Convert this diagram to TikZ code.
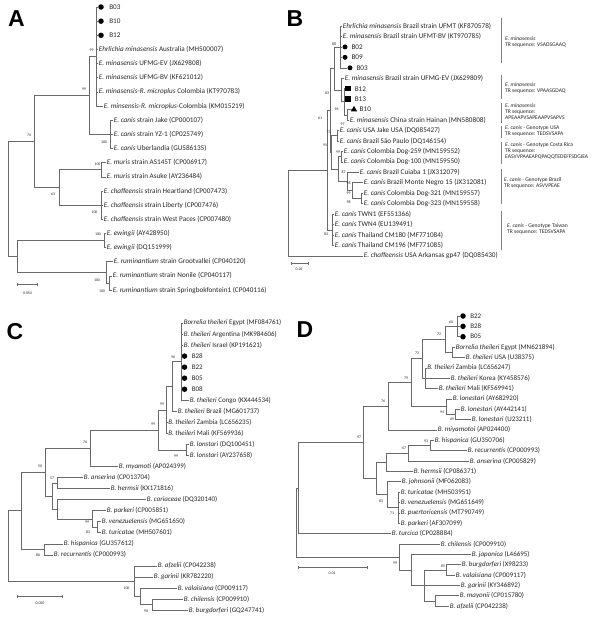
\documentclass[tikz,border=0pt]{standalone}
\usepackage{fontspec}
\setmainfont{Carlito}
\newfontfamily\panelfont{Liberation Sans}
\usepackage{tikz}
\usetikzlibrary{arrows.meta,positioning,shapes.geometric}
\definecolor{branchgray}{HTML}{6A6A6A}
\definecolor{labelgray}{HTML}{262626}

\begin{document}
\begin{tikzpicture}[x=1pt,y=-1pt,
  br/.style={draw=branchgray,line width=0.6pt},
  lfa/.style={anchor=west,inner sep=0.6pt,text=labelgray,font=\fontsize{7.2}{8}\selectfont},
  lfb/.style={lfa,font=\fontsize{7.2}{8}\selectfont},
  lfc/.style={lfa,font=\fontsize{7}{8}\selectfont},
  bs/.style={inner sep=0pt,text=labelgray,font=\fontsize{3.9}{4}\selectfont},
  dt/.style={circle,fill=black,minimum size=5.5pt,inner sep=0pt},
  sq/.style={rectangle,fill=black,minimum size=5.5pt,inner sep=0pt},
  tri/.style={regular polygon,regular polygon sides=3,fill=black,minimum size=7.5pt,inner sep=0pt},
  ann/.style={anchor=west,align=left,inner sep=0pt,text=labelgray,font=\fontsize{5.6}{6}\selectfont},
  brk/.style={draw=branchgray!85,line width=0.6pt},
  panel/.style={font=\panelfont\fontsize{23}{23}\selectfont\bfseries}]
\useasboundingbox (0,0) rectangle (600,621);

\node[panel] (pA) at (16.5,18.5) {A};
\node[panel] (pB) at (295,18.5) {B};
\node[panel] (pC) at (15,332) {C};
\node[panel] (pD) at (305,330) {D};

% A
\coordinate (aMin) at (96.5,56.5);
\coordinate (aCan) at (110,134.35);
\coordinate (aMC) at (89,95.4);
\coordinate (aMur) at (101,169.7);
\coordinate (aCha) at (101,205.1);
\coordinate (aMCh) at (59,187.4);
\coordinate (a74) at (34.5,141.4);
\coordinate (aEwi) at (104,240.5);
\coordinate (aRum) at (106,272.3);
\coordinate (aRum2) at (109,282.9);
\coordinate (aER) at (17,256.4);
\coordinate (aRoot) at (8,198.9);
\node[dt] (aB03) at (101,7) {};
\node[lfa,right=4.5pt of aB03] (aB03t) {B03};
\node[dt] (aB10) at (101,21.15) {};
\node[lfa,right=4.5pt of aB10] (aB10t) {B10};
\node[dt] (aB12) at (101,35.3) {};
\node[lfa,right=4.5pt of aB12] (aB12t) {B12};
\node[lfa] (aAus) at (98,49.45) {\textit{Ehrlichia minasensis} Australia (MH500007)};
\node[lfa] (aEV) at (98,63.6) {\textit{E. minasensis} UFMG-EV (JX629808)};
\node[lfa] (aBV) at (98,77.75) {\textit{E. minasensis} UFMG-BV (KF621012)};
\node[lfa] (aKT) at (98,91.9) {\textit{E. minasensis-R. microplus} Colombia (KT970783)};
\node[lfa] (aKM) at (103,106.05) {\textit{E. minsensis-R. microplus}-Colombia (KM015219)};
\node[lfa] (aJake) at (113,120.2) {\textit{E. canis} strain Jake (CP000107)};
\node[lfa] (aYZ) at (113,134.35) {\textit{E. canis} strain YZ-1 (CP025749)};
\node[lfa] (aUber) at (113,148.5) {\textit{E. canis} Uberlandia (GU586135)};
\node[lfa] (aAS) at (106,162.65) {\textit{E. muris} strain AS145T (CP006917)};
\node[lfa] (aAsuke) at (106,176.8) {\textit{E. muris} strain Asuke (AY236484)};
\node[lfa] (aHeart) at (103,190.95) {\textit{E. chaffeensis} strain Heartland (CP007473)};
\node[lfa] (aLib) at (103,205.1) {\textit{E. chaffeensis} strain Liberty (CP007476)};
\node[lfa] (aWest) at (103,219.25) {\textit{E. chaffeensis} strain West Paces (CP007480)};
\node[lfa] (aEwA) at (106,233.4) {\textit{E. ewingii} (AY428950)};
\node[lfa] (aEwD) at (106,247.55) {\textit{E. ewingii} (DQ151999)};
\node[lfa] (aGroot) at (113,261.7) {\textit{E. ruminantium} strain Grootvallei (CP040120)};
\node[lfa] (aNon) at (112,275.85) {\textit{E. ruminantium} strain Nonile (CP040117)};
\node[lfa] (aSpr) at (112,290) {\textit{E. ruminantium} strain Springbokfontein1 (CP040116)};
\draw[br] (aMin) |- (aB03) (aMin) |- (aB10) (aMin) |- (aB12) (aMin) |- (aAus) (aMin) |- (aEV) (aMin) |- (aBV) (aMin) |- (aKT) (aMin) |- (aKM);
\draw[br] (aCan) |- (aJake) (aCan) |- (aYZ) (aCan) |- (aUber);
\draw[br] (aMC) |- (aMin) (aMC) |- (aCan);
\draw[br] (aMur) |- (aAS) (aMur) |- (aAsuke);
\draw[br] (aCha) |- (aHeart) (aCha) |- (aLib) (aCha) |- (aWest);
\draw[br] (aMCh) |- (aMur) (aMCh) |- (aCha);
\draw[br] (a74) |- (aMC) (a74) |- (aMCh);
\draw[br] (aEwi) |- (aEwA) (aEwi) |- (aEwD);
\draw[br] (aRum2) |- (aNon) (aRum2) |- (aSpr);
\draw[br] (aRum) |- (aGroot) (aRum) |- (aRum2);
\draw[br] (aER) |- (aEwi) (aER) |- (aRum);
\draw[br] (aRoot) |- (a74) (aRoot) |- (aER);
\node[bs] (aS1) at (91.5,50.5) {99};
\node[bs] (aS2) at (84,89.5) {99};
\node[bs] (aS3) at (29,135.5) {74};
\node[bs] (aS4) at (104,142) {100};
\node[bs] (aS5) at (97.5,164) {100};
\node[bs] (aS6) at (53,194.5) {63};
\node[bs] (aS7) at (94.5,212) {100};
\node[bs] (aS8) at (98,234) {100};
\node[bs] (aS9) at (97,280) {100};
\node[bs] (aS10) at (102,291) {100};
\draw[br,{Bar[width=3pt]}-{Bar[width=3pt]}] (17,284.5) -- (38,284.5);
\node[bs] (aSc) at (27.5,293) {0.050};

% B
\coordinate (b88) at (340,46.9);
\coordinate (b83) at (341.5,90);
\coordinate (b96) at (344,101.75);
\coordinate (b97) at (347,114.8);
\coordinate (bMin) at (334,68.45);
\coordinate (b73) at (337.5,135.7);
\coordinate (b99) at (341.5,156.6);
\coordinate (bD) at (361.5,198.4);
\coordinate (bMN) at (352,190.6);
\coordinate (b87) at (347,181.45);
\coordinate (bCol) at (338,169);
\coordinate (b95) at (331.5,152.35);
\coordinate (b61) at (330,110.4);
\coordinate (bTw) at (332,229.8);
\coordinate (bIn) at (327,170.1);
\coordinate (bRoot) at (288,213);
\node[lfb] (bUFMT) at (342,26) {\textit{Ehrlichia minasensis} Brazil strain UFMT (KF870578)};
\node[lfb] (bUFBV) at (342,36.45) {\textit{E. minasensis} Brazil strain UFMT-BV (KT970785)};
\node[dt,minimum size=5pt] (bB02) at (345,46.9) {};
\node[lfb,right=3pt of bB02] (bB02t) {B02};
\node[dt,minimum size=5pt] (bB09) at (345,57.35) {};
\node[lfb,right=3pt of bB09] (bB09t) {B09};
\node[dt,minimum size=5pt] (bB03) at (350,67.8) {};
\node[lfb,right=3pt of bB03] (bB03t) {B03};
\node[lfb] (bEV) at (344,78.25) {\textit{E. minasensis} Brazil strain UFMG-EV (JX629809)};
\node[sq] (bB12) at (348,88.7) {};
\node[lfb,right=3pt of bB12] (bB12t) {B12};
\node[sq] (bB13) at (348,99.15) {};
\node[lfb,right=3pt of bB13] (bB13t) {B13};
\node[tri] (bB10) at (354,109.6) {};
\node[lfb,right=2.5pt of bB10] (bB10t) {B10};
\node[lfb] (bHai) at (349,120.05) {\textit{E. minasensis} China strain Hainan (MN580808)};
\node[lfb] (bJake) at (339,130.5) {\textit{E. canis} USA Jake USA (DQ085427)};
\node[lfb] (bSao) at (339,140.95) {\textit{E. canis} Brazil São Paulo (DQ146154)};
\node[lfb] (bD259) at (343,151.4) {\textit{E. canis} Colombia Dog-259 (MN159552)};
\node[lfb] (bD100) at (343,161.85) {\textit{E. canis} Colombia Dog-100 (MN159550)};
\node[lfb] (bCui) at (359,172.3) {\textit{E. canis} Brazil Cuiaba 1 (JX312079)};
\node[lfb] (bMon) at (363,182.75) {\textit{E. canis} Brazil Monte Negro 15 (JX312081)};
\node[lfb] (bD321) at (363,193.2) {\textit{E. canis} Colombia Dog-321 (MN159557)};
\node[lfb] (bD323) at (363,203.65) {\textit{E. canis} Colombia Dog-323 (MN159558)};
\node[lfb] (bTW1) at (334,214.1) {\textit{E. canis} TWN1 (EF551366)};
\node[lfb] (bTW4) at (334,224.55) {\textit{E. canis} TWN4 (EU139491)};
\node[lfb] (bCM180) at (334,235) {\textit{E. canis} Thailand CM180 (MF771084)};
\node[lfb] (bCM196) at (334,245.45) {\textit{E. canis} Thailand CM196 (MF771085)};
\node[lfb] (bCha) at (363,255.9) {\textit{E. chaffeensis} USA Arkansas gp47 (DQ085430)};
\draw[br] (b88) |- (bUFMT) (b88) |- (bUFBV) (b88) |- (bB02) (b88) |- (bB09) (b88) |- (bB03);
\draw[br] (b97) |- (bB10) (b97) |- (bHai);
\draw[br] (b96) |- (bB12) (b96) |- (bB13) (b96) |- (b97);
\draw[br] (b83) |- (bEV) (b83) |- (b96);
\draw[br] (bMin) |- (b88) (bMin) |- (b83);
\draw[br] (b73) |- (bJake) (b73) |- (bSao);
\draw[br] (b99) |- (bD259) (b99) |- (bD100);
\draw[br] (bD) |- (bD321) (bD) |- (bD323);
\draw[br] (bMN) |- (bMon) (bMN) |- (bD);
\draw[br] (b87) |- (bCui) (b87) |- (bMN);
\draw[br] (bCol) |- (b99) (bCol) |- (b87);
\draw[br] (b95) |- (b73) (b95) |- (bCol);
\draw[br] (b61) |- (bMin) (b61) |- (b95);
\draw[br] (bTw) |- (bTW1) (bTw) |- (bTW4) (bTw) |- (bCM180) (bTw) |- (bCM196);
\draw[br] (bIn) |- (b61) (bIn) |- (bTw);
\draw[br] (bRoot) |- (bIn) (bRoot) |- (bCha);
\node[bs] (bS1) at (334,44) {88};
\node[bs] (bS2) at (327,93) {83};
\node[bs] (bS3) at (336.5,109) {96};
\node[bs] (bS4) at (342.5,124) {97};
\node[bs] (bS5) at (320,118) {61};
\node[bs] (bS6) at (328.5,132) {73};
\node[bs] (bS7) at (325,145) {95};
\node[bs] (bS8) at (338,152) {99};
\node[bs] (bS9) at (343.5,172.5) {87};
\node[bs] (bS10) at (348.5,183) {98};
\node[bs] (bS11) at (348.5,193) {99};
\node[bs] (bS12) at (348.5,202.5) {98};
\node[bs] (bS13) at (326,234) {83};
\draw[br,{Bar[width=3pt]}-{Bar[width=3pt]}] (291,263) -- (309,263);
\node[bs] (bSc) at (299,269.5) {0.20};
\draw[brk] (501,18) -- (501,63);
\node[ann] (bA1) at (505,42) {\textit{E. minasensis}\\TR sequence: VSADSGAAQ};
\draw[brk] (501,75) -- (501,99);
\node[ann] (bA2) at (505,88) {\textit{E. minasensis}\\TR sequence: VPAASGDAQ};
\draw[brk] (501,103) -- (501,123);
\node[ann] (bA3) at (505,111.5) {\textit{E. minasensis}\\TR sequence:\\APEAAPVSAPEAAPVSAPVS};
\draw[brk] (501,125.5) -- (501,138);
\node[ann] (bA4) at (505,131) {\textit{E. canis} - Genotype USA\\TR sequence: TEDSVSAPA};
\draw[brk] (501,142) -- (501,164);
\node[ann] (bA5) at (505,151) {\textit{E. canis} - Genotype Costa Rica\\TR sequence:\\EASVVPAAEAPQPAQQTEDEFFSDGIEA};
\draw[brk] (501,169) -- (501,204);
\node[ann] (bA6) at (504,183) {\textit{E. canis} - Genotype Brazil\\TR sequence: ASVVPEAE};
\draw[brk] (501,211) -- (501,250);
\node[ann] (bA7) at (507,229.5) {\textit{E. canis} - Genotype Taiwan\\TR sequence: TEDSVSAPA};

% C
\coordinate (c0) at (181,361.64);
\coordinate (c96) at (172,386.48);
\coordinate (c99a) at (166,409.94);
\coordinate (cLon) at (186,449.96);
\coordinate (c99b) at (158,429.95);
\coordinate (c76) at (90,448.24);
\coordinate (c57) at (57,483.08);
\coordinate (c83) at (97,527.24);
\coordinate (cPark) at (92,518.96);
\coordinate (cCor) at (57,509.3);
\coordinate (cRel2) at (52,496.19);
\coordinate (c50) at (45,472.2);
\coordinate (cHis) at (44,549.32);
\coordinate (cRelAll) at (21.5,510.76);
\coordinate (cChi) at (152,604.52);
\coordinate (cVal) at (140,596.24);
\coordinate (cBb) at (134,581.06);
\coordinate (cRoot) at (8,545.91);
\node[lfc] (cEgy) at (183,323) {\textit{Borrelia theileri} Egypt (MF084761)};
\node[lfc] (cArg) at (183,334.04) {\textit{B. theileri} Argentina (MK984606)};
\node[lfc] (cIsr) at (183,345.08) {\textit{B. theileri} Israel (KP191621)};
\node[dt] (cB28) at (184.5,356.12) {};
\node[lfc,right=3.5pt of cB28] (cB28t) {B28};
\node[dt] (cB22) at (184.5,367.16) {};
\node[lfc,right=3.5pt of cB22] (cB22t) {B22};
\node[dt] (cB05) at (184.5,378.2) {};
\node[lfc,right=3.5pt of cB05] (cB05t) {B05};
\node[dt] (cB08) at (184.5,389.24) {};
\node[lfc,right=3.5pt of cB08] (cB08t) {B08};
\node[lfc] (cCon) at (189,400.28) {\textit{B. theileri} Congo (KX444534)};
\node[lfc] (cBra) at (177,411.32) {\textit{B. theileri} Brazil (MG601737)};
\node[lfc] (cZam) at (167.5,422.36) {\textit{B. theileri} Zambia (LC656235)};
\node[lfc] (cMal) at (167.5,433.4) {\textit{B. theileri} Mali (KF569936)};
\node[lfc] (cLonD) at (189,444.44) {\textit{B. lonstari} (DQ100451)};
\node[lfc] (cLonA) at (189,455.48) {\textit{B. lonstari} (AY237658)};
\node[lfc] (cMya) at (118,466.52) {\textit{B. myamoti} (AP024399)};
\node[lfc] (cAns) at (83,477.56) {\textit{B. anserina} (CP013704)};
\node[lfc] (cHer) at (110,488.6) {\textit{B. hermsii} (KX171816)};
\node[lfc] (cCorL) at (146,499.64) {\textit{B. coriaceae} (DQ320140)};
\node[lfc] (cParL) at (106,510.68) {\textit{B. parkeri} (CP005851)};
\node[lfc] (cVen) at (101,521.72) {\textit{B. venezuelensis} (MG651650)};
\node[lfc] (cTur) at (101,532.76) {\textit{B. turicatae} (MH507601)};
\node[lfc] (cHisL) at (63,543.8) {\textit{B. hispanica} (GU357612)};
\node[lfc] (cRec) at (53,554.84) {\textit{B. recurrentis} (CP000993)};
\node[lfc] (cAfz) at (157,565.88) {\textit{B. afzelii} (CP042238)};
\node[lfc] (cGar) at (153,576.92) {\textit{B. garinii} (KR782220)};
\node[lfc] (cValL) at (177,587.96) {\textit{B. valaisiana} (CP009117)};
\node[lfc] (cChiL) at (183,599) {\textit{B. chilensis} (CP009910)};
\node[lfc] (cBur) at (188,610.04) {\textit{B. burgdorferi} (GQ247741)};
\draw[br] (c0) |- (cEgy) (c0) |- (cArg) (c0) |- (cIsr) (c0) |- (cB28) (c0) |- (cB22) (c0) |- (cB05) (c0) |- (cB08) (c0) |- (cCon);
\draw[br] (c96) |- (c0) (c96) |- (cBra);
\draw[br] (c99a) |- (c96) (c99a) |- (cZam) (c99a) |- (cMal);
\draw[br] (cLon) |- (cLonD) (cLon) |- (cLonA);
\draw[br] (c99b) |- (c99a) (c99b) |- (cLon);
\draw[br] (c76) |- (c99b) (c76) |- (cMya);
\draw[br] (c57) |- (cAns) (c57) |- (cHer);
\draw[br] (c83) |- (cVen) (c83) |- (cTur);
\draw[br] (cPark) |- (cParL) (cPark) |- (c83);
\draw[br] (cCor) |- (cCorL) (cCor) |- (cPark);
\draw[br] (cRel2) |- (c57) (cRel2) |- (cCor);
\draw[br] (c50) |- (c76) (c50) |- (cRel2);
\draw[br] (cHis) |- (cHisL) (cHis) |- (cRec);
\draw[br] (cRelAll) |- (c50) (cRelAll) |- (cHis);
\draw[br] (cChi) |- (cChiL) (cChi) |- (cBur);
\draw[br] (cVal) |- (cValL) (cVal) |- (cChi);
\draw[br] (cBb) |- (cAfz) (cBb) |- (cGar) (cBb) |- (cVal);
\draw[br] (cRoot) |- (cRelAll) (cRoot) |- (cBb);
\node[bs] (cS1) at (173,357) {96};
\node[bs] (cS2) at (162,404) {99};
\node[bs] (cS3) at (153,424.5) {99};
\node[bs] (cS4) at (85,442) {76};
\node[bs] (cS5) at (176,456.5) {99};
\node[bs] (cS6) at (40,466) {50};
\node[bs] (cS7) at (52,478) {57};
\node[bs] (cS8) at (87,522) {99};
\node[bs] (cS9) at (88,532) {83};
\node[bs] (cS10) at (38,555) {86};
\node[bs] (cS11) at (126.5,588) {100};
\node[bs] (cS12) at (146,611) {90};
\draw[br,{Bar[width=3pt]}-{Bar[width=3pt]}] (17,596) -- (63,596);
\node[bs] (cSc) at (40,603) {0.050};

% D
\coordinate (d60) at (457,326.36);
\coordinate (dEgy) at (452,352.26);
\coordinate (d72) at (445,339.31);
\coordinate (dZam) at (425,378.16);
\coordinate (d73) at (422,358.74);
\coordinate (d94) at (455,414.42);
\coordinate (dLon) at (446,406.65);
\coordinate (d79) at (411,382.7);
\coordinate (d76) at (388,406.33);
\coordinate (d93) at (430,445.5);
\coordinate (d67) at (408,453.27);
\coordinate (dHrm) at (386,462.34);
\coordinate (d71) at (398,507.66);
\coordinate (dJoh) at (387,494.71);
\coordinate (dRF) at (376,478.53);
\coordinate (d97) at (363,442.43);
\coordinate (dIn) at (298,487.99);
\coordinate (dBV) at (446,569.82);
\coordinate (dMA) at (435,600.9);
\coordinate (dEu) at (424,585.36);
\coordinate (dJap) at (411,569.82);
\coordinate (dLyme) at (399,556.87);
\coordinate (dRoot) at (296,522.43);
\node[dt] (dB22) at (463,316) {};
\node[lfc,right=3.5pt of dB22] (dB22t) {B22};
\node[dt] (dB28) at (463,326.36) {};
\node[lfc,right=3.5pt of dB28] (dB28t) {B28};
\node[dt] (dB05) at (463,336.72) {};
\node[lfc,right=3.5pt of dB05] (dB05t) {B05};
\node[lfc] (dEgyL) at (455,347.08) {\textit{Borrelia theileri} Egypt (MN621894)};
\node[lfc] (dUSAL) at (465,357.44) {\textit{B. theileri} USA (U38375)};
\node[lfc] (dZamL) at (426.5,367.8) {\textit{B. theileri} Zambia (LC656247)};
\node[lfc] (dKorL) at (450,378.16) {\textit{B. theileri} Korea (KY458576)};
\node[lfc] (dMalL) at (438,388.52) {\textit{B. theileri} Mali (KF569941)};
\node[lfc] (dLonA) at (452,398.88) {\textit{B. lonestari} (AY682920)};
\node[lfc] (dLonB) at (460,409.24) {\textit{B. lonestari} (AY442141)};
\node[lfc] (dLonC) at (471,419.6) {\textit{B. lonestari} (U23211)};
\node[lfc] (dMiyL) at (437,429.96) {\textit{B. miyamotoi} (AP024400)};
\node[lfc] (dHisL) at (434,440.32) {\textit{B. hispanica} (GU350706)};
\node[lfc] (dRecL) at (467,450.68) {\textit{B. recurrentis} (CP000993)};
\node[lfc] (dAnsL) at (469,461.04) {\textit{B. anserina} (CP005829)};
\node[lfc] (dHerL) at (413,471.4) {\textit{B. hermsii} (CP086371)};
\node[lfc] (dJohL) at (401,481.76) {\textit{B. johnsonii} (MF062083)};
\node[lfc] (dTurL) at (400,492.12) {\textit{B. turicatae} (MH503951)};
\node[lfc] (dVenL) at (400,502.48) {\textit{B. venezuelensis} (MG651649)};
\node[lfc] (dPueL) at (400,512.84) {\textit{B. puertoricensis} (MT790749)};
\node[lfc] (dParL) at (400,523.2) {\textit{B. parkeri} (AF307099)};
\node[lfc] (dTcaL) at (391,533.56) {\textit{B. turcica} (CP028884)};
\node[lfc] (dChiL) at (440,543.92) {\textit{B. chilensis} (CP009910)};
\node[lfc] (dJapL) at (471,554.28) {\textit{B. japonica} (L46695)};
\node[lfc] (dBurL) at (461,564.64) {\textit{B. burgdorferi} (X98233)};
\node[lfc] (dValL) at (455,575) {\textit{B. valaisiana} (CP009117)};
\node[lfc] (dGarL) at (460,585.36) {\textit{B. garinii} (KY346892)};
\node[lfc] (dMayL) at (459,595.72) {\textit{B. mayonii} (CP015780)};
\node[lfc] (dAfzL) at (449,606.08) {\textit{B. afzelii} (CP042238)};
\draw[br] (d60) |- (dB22) (d60) |- (dB28) (d60) |- (dB05);
\draw[br] (dEgy) |- (dEgyL) (dEgy) |- (dUSAL);
\draw[br] (d72) |- (d60) (d72) |- (dEgy);
\draw[br] (dZam) |- (dZamL) (dZam) |- (dKorL) (dZam) |- (dMalL);
\draw[br] (d73) |- (d72) (d73) |- (dZam);
\draw[br] (d94) |- (dLonB) (d94) |- (dLonC);
\draw[br] (dLon) |- (dLonA) (dLon) |- (d94);
\draw[br] (d79) |- (d73) (d79) |- (dLon);
\draw[br] (d76) |- (d79) (d76) |- (dMiyL);
\draw[br] (d93) |- (dHisL) (d93) |- (dRecL);
\draw[br] (d67) |- (d93) (d67) |- (dAnsL);
\draw[br] (dHrm) |- (d67) (dHrm) |- (dHerL);
\draw[br] (d71) |- (dTurL) (d71) |- (dVenL) (d71) |- (dPueL) (d71) |- (dParL);
\draw[br] (dJoh) |- (dJohL) (dJoh) |- (d71);
\draw[br] (dRF) |- (dHrm) (dRF) |- (dJoh);
\draw[br] (d97) |- (d76) (d97) |- (dRF);
\draw[br] (dIn) |- (d97) (dIn) |- (dTcaL);
\draw[br] (dBV) |- (dBurL) (dBV) |- (dValL);
\draw[br] (dMA) |- (dMayL) (dMA) |- (dAfzL);
\draw[br] (dEu) |- (dBV) (dEu) |- (dGarL) (dEu) |- (dMA);
\draw[br] (dJap) |- (dJapL) (dJap) |- (dEu);
\draw[br] (dLyme) |- (dChiL) (dLyme) |- (dJap);
\draw[br] (dRoot) |- (dIn) (dRoot) |- (dLyme);
\node[bs] (dS1) at (451,322) {60};
\node[bs] (dS2) at (439,334) {72};
\node[bs] (dS3) at (417,353) {73};
\node[bs] (dS4) at (406,378) {79};
\node[bs] (dS5) at (383,401) {76};
\node[bs] (dS6) at (442,412) {94};
\node[bs] (dS7) at (452,419.5) {69};
\node[bs] (dS8) at (359,437) {97};
\node[bs] (dS9) at (426,441) {93};
\node[bs] (dS10) at (404,448) {67};
\node[bs] (dS11) at (381,501) {83};
\node[bs] (dS12) at (392,513) {71};
\node[bs] (dS13) at (443,566) {85};
\node[bs] (dS14) at (395,563) {99};
\draw[br,{Bar[width=3pt]}-{Bar[width=3pt]}] (298,567) -- (368,567);
\node[bs] (dSc) at (332,573.5) {0.01};
\end{tikzpicture}
\end{document}
